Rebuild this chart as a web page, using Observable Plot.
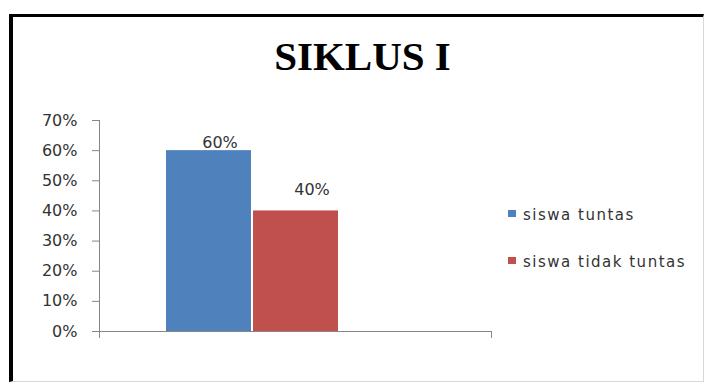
<!DOCTYPE html>
<html>
<head>
<meta charset="utf-8">
<script src="https://cdn.jsdelivr.net/npm/d3@7"></script>
<script src="https://cdn.jsdelivr.net/npm/@observablehq/plot@0.6"></script>
<style>
  html, body { margin: 0; padding: 0; background: #fff; }
  #wrap { position: relative; width: 704px; height: 383px; overflow: hidden; background: #fff; }
  #border { position: absolute; left: 9px; top: 14px; right: 0; bottom: 1px;
            border-left: 4px solid #000; border-top: 3px solid #000;
            border-right: 1px solid #d8d8d8; border-bottom: 1px solid #d8d8d8; }
  #title { position: absolute; left: 0; width: 725px; top: 33px; text-align: center;
           font-family: "Liberation Serif", "Times New Roman", serif; font-weight: bold;
           font-size: 41px; line-height: 46px; color: #000; }
  #chart { position: absolute; left: 0; top: 0; }
  #legend { position: absolute; left: 508px; top: 0; font-family: "DejaVu Sans", sans-serif;
            font-size: 15px; letter-spacing: 1.5px; color: #333; }
  .row { position: absolute; left: 0; height: 18px; line-height: 18px; white-space: nowrap; }
  .sw { position: absolute; left: 0; top: 4px; width: 8px; height: 7px; }
  .lb { position: absolute; left: 15px; top: 0; }
  g[aria-label="y-axis tick"] { stroke: #868686; }
  g[aria-label="y-axis tick label"] { fill: #333; }
</style>
</head>
<body>
<div id="wrap">
  <div id="border"></div>
  <div id="title"></div>
  <div id="chart"></div>
  <div id="legend"></div>
</div>
<script>
const titleText = "SIKLUS I";
const series = ["siswa tuntas", "siswa tidak tuntas"];
const values = [0.60, 0.40];
const colors = ["#4F81BD", "#C0504D"];
const yTicks = [0, 0.1, 0.2, 0.3, 0.4, 0.5, 0.6, 0.7];

const rows = series.map((s, i) => ({series: s, value: values[i]}));
const pct = d3.format(".0%");

document.getElementById("title").textContent = titleText;

const axisLines = (index, scales, vals, dims) => {
  const x0 = dims.marginLeft, x1 = dims.width - dims.marginRight;
  const yb = scales.y(0), yt = scales.y(yTicks[yTicks.length - 1]);
  const t = 7;
  const g = d3.create("svg:g").attr("fill", "none").attr("stroke", "#868686");
  g.append("path").attr("d",
    `M${x0 + 0.5},${yt}V${yb + t}` +
    `M${x0 - t},${yb + 0.5}H${x1}` +
    `M${x1 - 0.5},${yb}V${yb + t}`);
  return g.node();
};

const chart = Plot.plot({
  width: 704,
  height: 383,
  marginLeft: 99,
  marginRight: 212,
  marginTop: 120,
  marginBottom: 52,
  style: {fontFamily: "DejaVu Sans, sans-serif", fontSize: "16px", background: "transparent", overflow: "visible"},
  x: {domain: series, paddingInner: 0, paddingOuter: 1.2586, align: 0.3014, axis: null},
  y: {domain: [0, 0.7]},
  color: {domain: series, range: colors},
  marks: [
    Plot.barY(rows, {x: "series", y: "value", fill: "series", insetLeft: 1, insetRight: 1}),
    Plot.axisY({ticks: yTicks, tickFormat: pct, tickSize: 7, tickPadding: 15, label: null}),
    axisLines,
    Plot.text(rows, {filter: (d, i) => i === 0, x: "series", y: "value", text: d => pct(d.value),
      lineAnchor: "bottom", dx: 11, dy: -3, fill: "#333"}),
    Plot.text(rows, {filter: (d, i) => i === 1, x: "series", y: "value", text: d => pct(d.value),
      lineAnchor: "bottom", dx: 16, dy: -16, fill: "#333"})
  ]
});
document.getElementById("chart").appendChild(chart);

const legend = document.getElementById("legend");
const color = chart.scale("color");
series.forEach((s, i) => {
  const row = document.createElement("div");
  row.className = "row";
  row.style.top = (206 + i * 47) + "px";
  const sw = document.createElement("span");
  sw.className = "sw";
  sw.style.background = color.apply(s);
  const lb = document.createElement("span");
  lb.className = "lb";
  lb.textContent = s;
  row.appendChild(sw);
  row.appendChild(lb);
  legend.appendChild(row);
});
</script>
</body>
</html>
